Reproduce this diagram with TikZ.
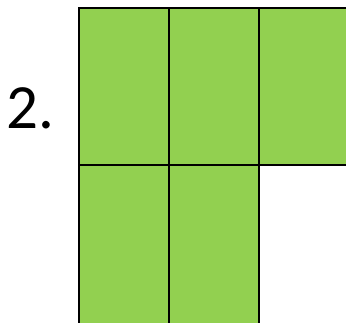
\documentclass[tikz,border=0pt]{standalone}
\usepackage{fontspec}
\setmainfont{Carlito}
\usetikzlibrary{positioning}
\definecolor{cellgreen}{RGB}{146,208,80}

\begin{document}
\begin{tikzpicture}[x=1pt, y=-1pt,
    cell/.style={draw=black, fill=cellgreen, line width=2pt, inner sep=0pt,
      outer sep=0pt, minimum width=89.7pt, minimum height=157.3pt, anchor=north west}]
  \useasboundingbox (0,0) rectangle (346,322);
  \clip (0,0) rectangle (346,322);
  % --- top row: three cells ---
  \foreach \n/\x in {1/79.3, 2/169, 3/258.7}{
    \node[cell] (top\n) at (\x,7.7) {};
  }
  % --- bottom row: two cells (run past the lower edge) ---
  \foreach \n/\x in {1/79.3, 2/169}{
    \node[cell, minimum height=160pt] (bot\n) at (\x,165) {};
  }
  % --- item number ---
  \node[font=\fontsize{63}{63}\selectfont, inner sep=0pt, anchor=base west] (num) at (6,128) {2.};
\end{tikzpicture}
\end{document}
